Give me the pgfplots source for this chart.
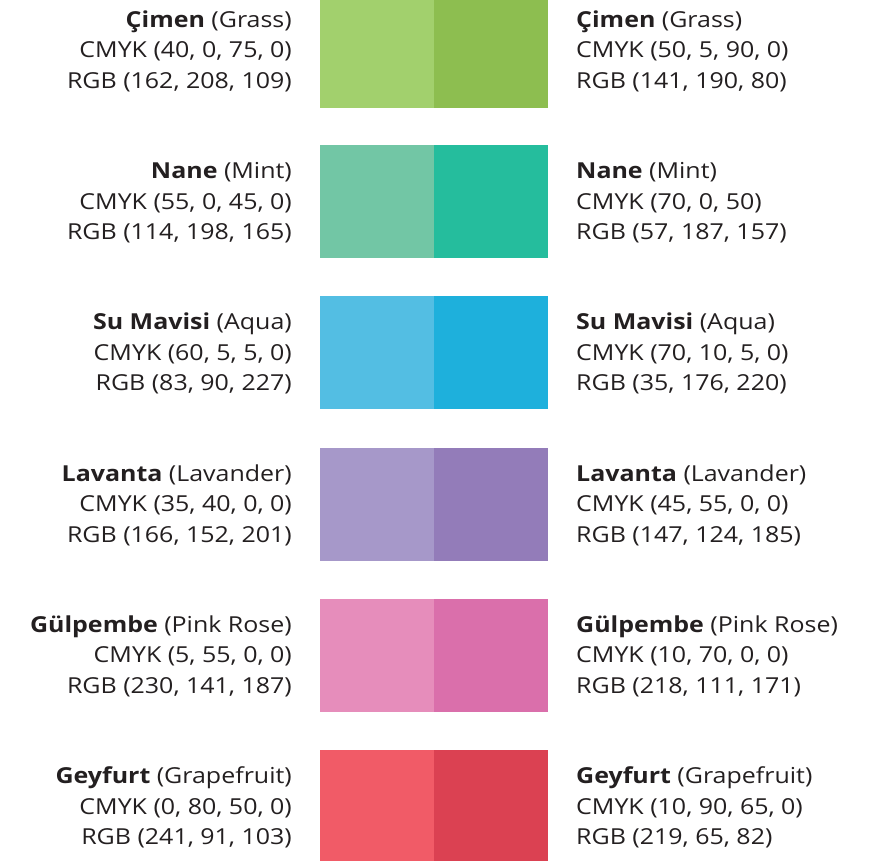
\documentclass[border=0pt]{standalone}
\usepackage{pgfplots}
\pgfplotsset{compat=1.18}
\usepackage{fontspec}
\setmainfont[FakeStretch=1.135]{Open Sans}
\definecolor{aL}{RGB}{162,208,109}\definecolor{aR}{RGB}{141,190,80}
\definecolor{bL}{RGB}{114,198,165}\definecolor{bR}{RGB}{37,189,157}
\definecolor{cL}{RGB}{83,190,227}\definecolor{cR}{RGB}{30,176,220}
\definecolor{dL}{RGB}{166,152,201}\definecolor{dR}{RGB}{147,124,185}
\definecolor{eL}{RGB}{230,141,187}\definecolor{eR}{RGB}{218,111,171}
\definecolor{fL}{RGB}{241,91,103}\definecolor{fR}{RGB}{219,65,82}
\definecolor{txt}{RGB}{35,31,32}
\tikzset{L/.style={anchor=base east, font=\fontsize{22bp}{30.5bp}\selectfont, text=txt, inner sep=0pt},
         R/.style={anchor=base west, font=\fontsize{22bp}{30.5bp}\selectfont, text=txt, inner sep=0pt}}
\begin{document}
\begin{tikzpicture}
\begin{axis}[
  scale only axis, width=872bp, height=861bp,
  xmin=0, xmax=872, ymin=0, ymax=861, y dir=reverse,
  hide axis, clip=false,
]
\addplot[draw=none, mark=none] coordinates {(0,0) (872,861)};
% swatches
\addplot[fill=aL, draw=none] coordinates {(320,0) (434.5,0) (434.5,107.7) (320,107.7)} --cycle;
\addplot[fill=aR, draw=none] coordinates {(434,0) (548,0) (548,107.7) (434,107.7)} --cycle;
\addplot[fill=bL, draw=none] coordinates {(320,145.2) (434.5,145.2) (434.5,258.2) (320,258.2)} --cycle;
\addplot[fill=bR, draw=none] coordinates {(434,145.2) (548,145.2) (548,258.2) (434,258.2)} --cycle;
\addplot[fill=cL, draw=none] coordinates {(320,296.4) (434.5,296.4) (434.5,409.4) (320,409.4)} --cycle;
\addplot[fill=cR, draw=none] coordinates {(434,296.4) (548,296.4) (548,409.4) (434,409.4)} --cycle;
\addplot[fill=dL, draw=none] coordinates {(320,447.6) (434.5,447.6) (434.5,560.6) (320,560.6)} --cycle;
\addplot[fill=dR, draw=none] coordinates {(434,447.6) (548,447.6) (548,560.6) (434,560.6)} --cycle;
\addplot[fill=eL, draw=none] coordinates {(320,598.8) (434.5,598.8) (434.5,711.8) (320,711.8)} --cycle;
\addplot[fill=eR, draw=none] coordinates {(434,598.8) (548,598.8) (548,711.8) (434,711.8)} --cycle;
\addplot[fill=fL, draw=none] coordinates {(320,750) (434.5,750) (434.5,861) (320,861)} --cycle;
\addplot[fill=fR, draw=none] coordinates {(434,750) (548,750) (548,861) (434,861)} --cycle;
% left labels
\node[L] at (axis cs:292,27.5) {\textbf{Çimen} (Grass)};
\node[L] at (axis cs:292,58) {CMYK (40, 0, 75, 0)};
\node[L] at (axis cs:292,88.5) {RGB (162, 208, 109)};
\node[L] at (axis cs:292,178.7) {\textbf{Nane} (Mint)};
\node[L] at (axis cs:292,209.2) {CMYK (55, 0, 45, 0)};
\node[L] at (axis cs:292,239.7) {RGB (114, 198, 165)};
\node[L] at (axis cs:292,329.9) {\textbf{Su Mavisi} (Aqua)};
\node[L] at (axis cs:292,360.4) {CMYK (60, 5, 5, 0)};
\node[L] at (axis cs:292,390.9) {RGB (83, 90, 227)};
\node[L] at (axis cs:292,481.1) {\textbf{Lavanta} (Lavander)};
\node[L] at (axis cs:292,511.6) {CMYK (35, 40, 0, 0)};
\node[L] at (axis cs:292,542.1) {RGB (166, 152, 201)};
\node[L] at (axis cs:292,632.3) {\textbf{Gülpembe} (Pink Rose)};
\node[L] at (axis cs:292,662.8) {CMYK (5, 55, 0, 0)};
\node[L] at (axis cs:292,693.3) {RGB (230, 141, 187)};
\node[L] at (axis cs:292,783.5) {\textbf{Geyfurt} (Grapefruit)};
\node[L] at (axis cs:292,814) {CMYK (0, 80, 50, 0)};
\node[L] at (axis cs:292,844.5) {RGB (241, 91, 103)};
% right labels
\node[R] at (axis cs:576,27.5) {\textbf{Çimen} (Grass)};
\node[R] at (axis cs:576,58) {CMYK (50, 5, 90, 0)};
\node[R] at (axis cs:576,88.5) {RGB (141, 190, 80)};
\node[R] at (axis cs:576,178.7) {\textbf{Nane} (Mint)};
\node[R] at (axis cs:576,209.2) {CMYK (70, 0, 50)};
\node[R] at (axis cs:576,239.7) {RGB (57, 187, 157)};
\node[R] at (axis cs:576,329.9) {\textbf{Su Mavisi} (Aqua)};
\node[R] at (axis cs:576,360.4) {CMYK (70, 10, 5, 0)};
\node[R] at (axis cs:576,390.9) {RGB (35, 176, 220)};
\node[R] at (axis cs:576,481.1) {\textbf{Lavanta} (Lavander)};
\node[R] at (axis cs:576,511.6) {CMYK (45, 55, 0, 0)};
\node[R] at (axis cs:576,542.1) {RGB (147, 124, 185)};
\node[R] at (axis cs:576,632.3) {\textbf{Gülpembe} (Pink Rose)};
\node[R] at (axis cs:576,662.8) {CMYK (10, 70, 0, 0)};
\node[R] at (axis cs:576,693.3) {RGB (218, 111, 171)};
\node[R] at (axis cs:576,783.5) {\textbf{Geyfurt} (Grapefruit)};
\node[R] at (axis cs:576,814) {CMYK (10, 90, 65, 0)};
\node[R] at (axis cs:576,844.5) {RGB (219, 65, 82)};
\end{axis}
\end{tikzpicture}
\end{document}
